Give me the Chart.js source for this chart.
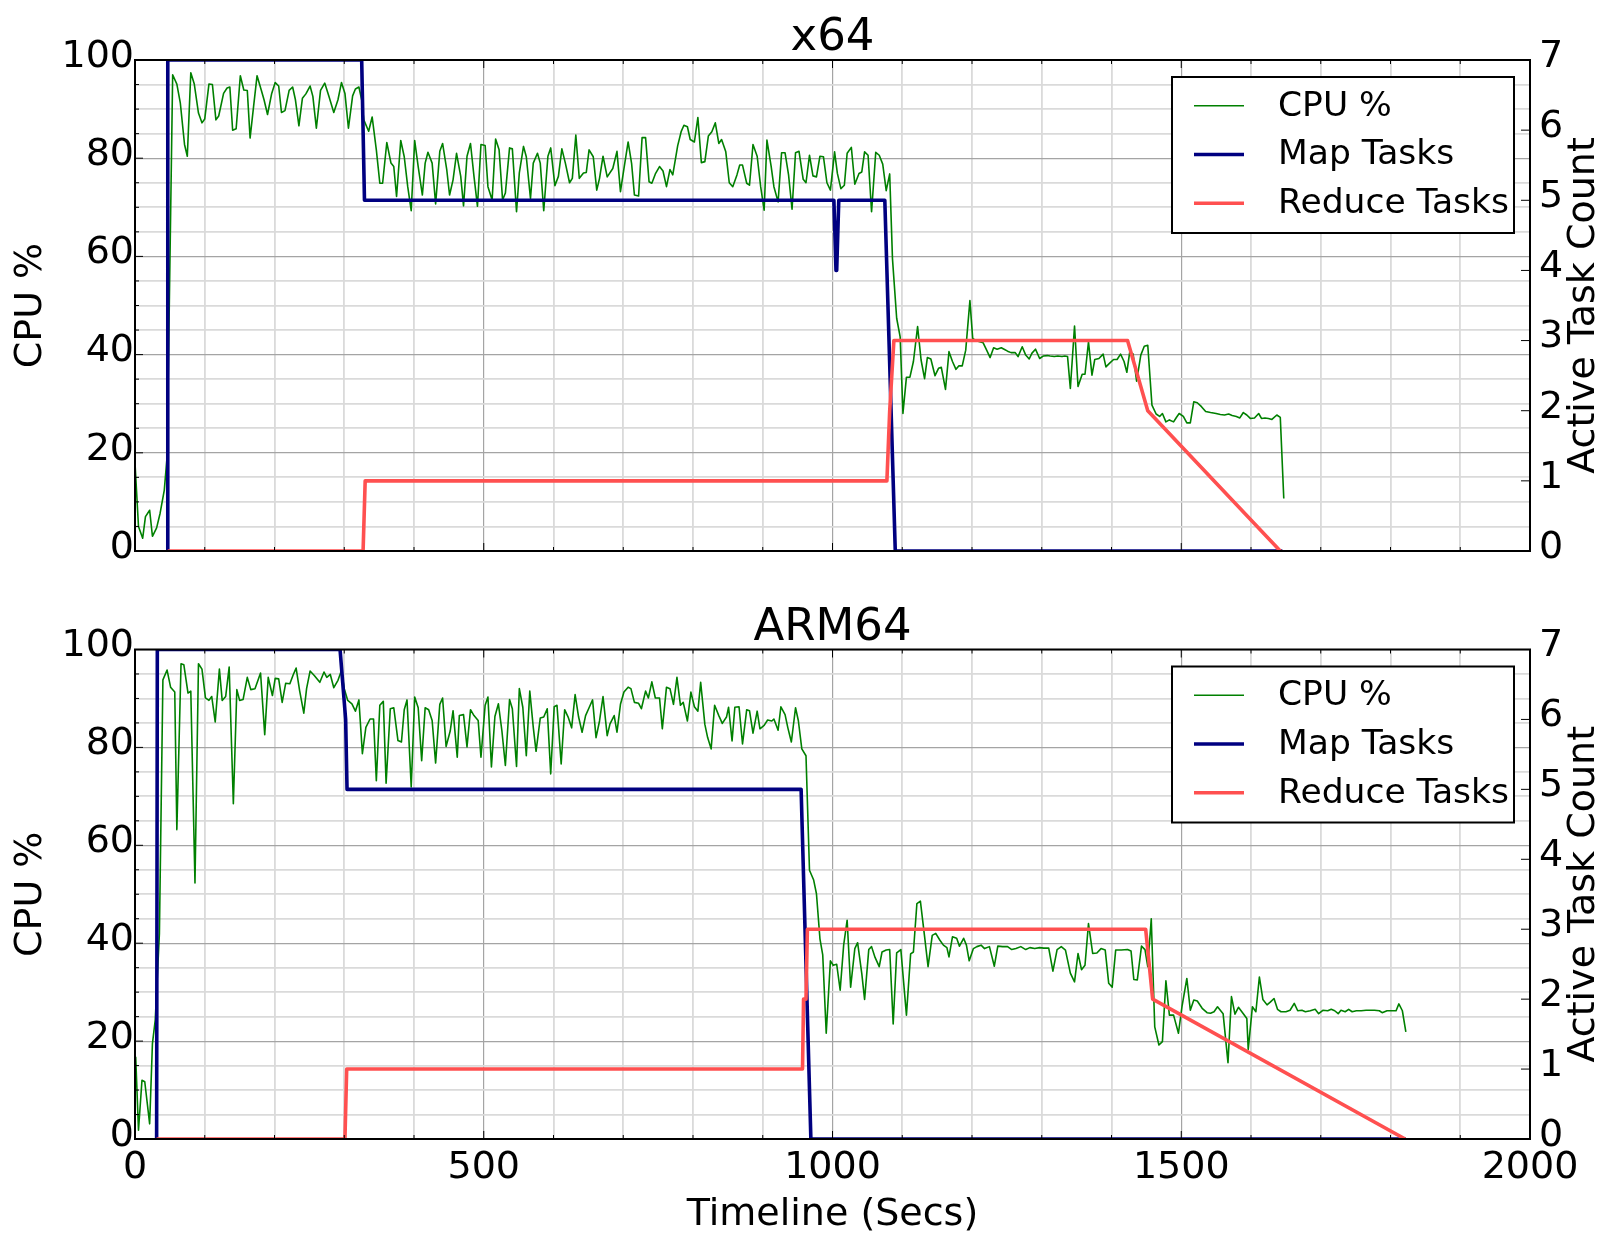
<!DOCTYPE html>
<html><head><meta charset="utf-8">
<script src="https://cdn.jsdelivr.net/npm/chart.js@4/dist/chart.umd.min.js"></script>
<style>
html,body{margin:0;padding:0;background:#fff;}
#wrap{position:relative;width:1620px;height:1247px;overflow:hidden;}
canvas{position:absolute;left:0;}
</style></head><body>
<div id="wrap">
<canvas id="c1" width="1620" height="600" style="top:0px"></canvas>
<canvas id="c2" width="1620" height="647" style="top:600px"></canvas>
</div>
<script>
// ---------- DATA ----------
const SERIES_LABELS = ['CPU %', 'Map Tasks', 'Reduce Tasks'];
const CHART_TITLES = ['x64', 'ARM64'];
const X_TICK_LABELS = [0, 500, 1000, 1500, 2000];
const CPU_TICK_LABELS = [0, 20, 40, 60, 80, 100];
const TASK_TICK_LABELS = [0, 1, 2, 3, 4, 5, 6, 7];

// [time (s), CPU %]
const x64Cpu = [[0,17.9],[5,5],[11,2.6],[15,7],[21,8.3],[25,3],[31,4.7],[36,7.7],[42,12.4],[46,19.2],[54,97],[60,95.1],[65,91.2],[71,82.8],[75,80.4],[80,97.4],[85,95.1],[91,89.2],[96,87.2],[100,88],[106,95.1],[111,95],[116,87.8],[120,88.6],[127,93.2],[132,94.3],[136,94.5],[140,85.7],[145,86],[151,96.8],[156,93.9],[161,93.8],[165,84.1],[170,90.5],[175,96.8],[181,93.9],[185,91.9],[190,88.9],[196,93.2],[201,95.4],[206,94.7],[210,89.3],[215,89.7],[221,93.8],[226,94.5],[230,91.9],[235,86.6],[240,92.2],[245,93.1],[251,94.7],[255,92.6],[260,86.1],[266,93.8],[272,95.3],[278,92.6],[285,89.3],[291,91.9],[296,95.4],[301,93.2],[306,86.1],[312,92.7],[316,94.1],[321,94.5],[325,91.9],[328,87.8],[335,85.5],[340,88.4],[346,81.7],[351,74.9],[355,74.9],[361,83.2],[367,79],[371,78.3],[375,72.2],[381,83.6],[386,80.3],[391,74.2],[396,69.3],[401,83.6],[406,78.3],[412,72.5],[416,79],[420,81.2],[426,79],[431,70.7],[437,81.4],[441,83],[447,77.6],[451,72.5],[456,75.6],[461,81],[467,76.3],[471,70.3],[476,80.4],[481,83],[486,76.3],[491,70.2],[496,82.8],[502,82.6],[506,74.2],[512,71.5],[517,83.9],[522,81.7],[527,71.5],[531,72.9],[537,82.1],[541,81.9],[547,69.1],[551,77],[557,82.4],[561,80.3],[567,71.8],[571,79],[577,81],[581,79],[586,69.3],[592,80.4],[596,82.1],[602,74.4],[607,76.3],[612,81.9],[617,79],[623,75],[627,75.9],[632,84.7],[637,75.9],[643,77],[647,77.1],[651,81.7],[657,80.3],[662,73.5],[666,75.9],[671,80.4],[677,76.2],[685,77.9],[691,81.4],[696,73.2],[701,77.9],[707,83.3],[712,78.9],[716,72.5],[722,72.3],[727,84.2],[732,84.2],[737,75.2],[741,74.9],[746,76.8],[752,78.3],[757,77.4],[762,74.2],[767,77.7],[771,76.6],[778,82.5],[783,85.4],[787,86.7],[792,86.4],[796,83.8],[802,83.3],[807,88.3],[812,79.1],[817,79.3],[822,84.5],[827,85.4],[832,87.2],[837,83],[841,83.8],[847,81.3],[852,75],[857,74.2],[863,76.6],[867,78.6],[871,78.6],[877,74.9],[881,74.5],[886,82.8],[892,80.4],[897,74.2],[902,69.4],[906,83.7],[912,78.4],[916,74.2],[922,71.1],[927,81.1],[932,81.1],[937,76.6],[942,69.6],[947,81.1],[952,81.4],[958,75.7],[962,75],[967,80.6],[972,76.4],[977,76.2],[982,80.4],[987,80.3],[992,75],[997,73.5],[1003,81.3],[1007,76.9],[1012,73.8],[1017,74.5],[1021,81],[1027,82.2],[1032,74.7],[1038,76.9],[1042,77.2],[1046,81.3],[1051,80.6],[1056,69.1],[1062,81.2],[1067,80.6],[1072,78.8],[1077,73.4],[1082,76.8],[1086,59.5],[1092,47.4],[1097,43.6],[1101,28],[1106,35.4],[1111,35.4],[1116,38.6],[1122,45.7],[1127,38.9],[1132,35.1],[1136,39.4],[1141,39.1],[1147,35.7],[1152,37.2],[1156,37.4],[1162,32.9],[1167,40.6],[1172,38.6],[1177,37],[1181,37.7],[1186,37.7],[1191,40.9],[1197,51],[1201,43.3],[1206,42.8],[1211,42.6],[1216,42.4],[1221,40.9],[1226,39.4],[1231,41.4],[1236,41.1],[1242,41.4],[1246,41.1],[1251,40.7],[1256,40.4],[1262,40.4],[1266,39.6],[1272,41.6],[1277,39.9],[1282,39.1],[1286,40.3],[1291,41.1],[1297,39.2],[1302,39.7],[1308,39.8],[1312,39.7],[1318,39.6],[1323,39.7],[1329,39.6],[1333,39.7],[1337,39.6],[1341,33.1],[1347,45.8],[1352,33.5],[1358,36],[1362,36],[1367,42.6],[1372,35.8],[1376,39],[1382,39.2],[1388,40.1],[1392,37.5],[1397,38.2],[1403,39],[1408,39],[1413,40.1],[1418,38.6],[1422,36.4],[1426,40.4],[1431,40.1],[1436,34.6],[1442,39.9],[1447,41.7],[1452,41.9],[1458,29.7],[1464,27.9],[1469,27.4],[1473,28],[1478,26.3],[1483,26.7],[1489,26.3],[1493,27.2],[1497,28],[1503,27.4],[1508,26.1],[1513,26.1],[1518,30.4],[1523,30.2],[1529,29.4],[1535,28.4],[1542,28.2],[1550,28],[1556,27.8],[1562,27.7],[1568,27.9],[1573,27.6],[1579,27.4],[1584,27.1],[1589,28.2],[1594,27.7],[1599,27],[1605,27.1],[1611,28],[1615,27],[1620,27.1],[1625,27],[1630,26.8],[1637,27.7],[1642,27.2],[1647,10.7]];

// [time (s), active map tasks]
const x64Map = [[46,0],[47,7],[325,7],[329,5],[1002,5],[1005,4],[1006,4],[1009,5],[1075,5],[1090,0],[1645,0]];
// [time (s), active reduce tasks]
const x64Reduce = [[47,0],[327,0],[330,1],[1078,1],[1082,2],[1088,3],[1423,3],[1452,2],[1642,0]];

const armCpu = [[1,16.8],[5,1.8],[10,12],[14,11.7],[21,3.1],[25,19.5],[29,24.3],[35,42],[40,93.8],[46,95.8],[51,92.3],[57,91.3],[60,63.2],[66,97.1],[70,96.9],[76,91.1],[80,91.5],[86,52.3],[91,97.1],[96,96],[101,90.1],[106,89.6],[110,90.4],[115,85.2],[121,96],[125,89.6],[130,90.4],[135,96.4],[141,68.5],[146,91.8],[150,89.6],[155,89.8],[161,94.3],[166,91.8],[172,92],[180,95.2],[186,82.6],[191,94.3],[197,90.6],[201,94.1],[206,94],[211,89.2],[216,93.1],[222,93],[227,94.9],[231,96.2],[236,91.6],[242,87],[246,92],[251,95.6],[257,94.7],[265,93.3],[271,95.4],[275,94.3],[280,94.9],[285,92.2],[291,93.7],[296,95.7],[300,92],[305,89.6],[311,88.9],[316,87.4],[321,89.7],[326,78.7],[331,84.1],[337,85.8],[342,85.8],[346,73.2],[351,88.6],[356,89.4],[360,72.7],[366,87.9],[371,88.1],[377,81.4],[382,81.1],[386,87.7],[390,89.7],[396,71.9],[401,90.3],[406,88.1],[411,77.3],[416,88.1],[421,87.7],[426,85.5],[431,76.8],[437,88.8],[441,90.1],[446,80.2],[452,83.4],[456,87.5],[462,78],[465,86.5],[471,86.7],[476,80.1],[481,87.7],[486,86.5],[492,85.5],[496,78],[502,88.6],[506,90.3],[511,76],[516,86.3],[521,88.9],[526,83.4],[531,76.3],[537,89.8],[541,87.9],[547,76.1],[551,92],[556,88.2],[561,78.3],[566,91.5],[571,84.1],[575,79.2],[581,86],[586,86.2],[591,87.9],[596,74.6],[601,88.3],[605,88.6],[611,76.6],[616,87.7],[621,86.2],[626,84],[631,90.8],[636,86.2],[641,83.1],[646,86.5],[651,88.1],[656,89.7],[661,82],[666,85.4],[671,90.4],[677,82.4],[681,84.8],[687,86.5],[691,83.1],[696,88.8],[701,91.3],[707,92.3],[711,92],[716,89.2],[722,89],[726,87.9],[732,91.5],[736,90.1],[741,93.4],[746,90.1],[752,90.1],[756,83.8],[762,92.3],[767,92],[772,88.8],[777,94.3],[782,88.6],[786,89.2],[792,85.4],[797,91.3],[802,88.3],[807,87.4],[811,93.3],[817,84.7],[821,82],[826,79.7],[831,88.6],[837,86.5],[842,84.9],[848,86.2],[851,88.2],[856,81.3],[860,88.2],[866,88.3],[871,80.7],[877,87.7],[881,87.5],[886,82.9],[892,87.4],[896,83.8],[902,84.5],[907,85.6],[913,85.4],[916,85.8],[922,83.5],[926,88.3],[932,86.7],[936,84],[941,81.1],[947,88.1],[951,85.5],[956,79.7],[962,78.3],[967,54.9],[973,52.9],[977,50.1],[982,40.9],[986,37.6],[991,21.6],[997,36.4],[1001,35.5],[1006,35.7],[1011,30.4],[1016,39.6],[1021,44.7],[1026,31],[1032,38.9],[1036,40.1],[1042,33.8],[1046,28.5],[1052,38.7],[1056,39.3],[1061,37.1],[1067,35.2],[1071,38.2],[1077,38.6],[1082,38.7],[1087,23.5],[1092,38],[1098,38.7],[1102,32],[1106,25.3],[1112,37.8],[1116,38.2],[1121,48.1],[1126,48.6],[1132,41.4],[1137,35.2],[1143,41.6],[1148,42],[1154,40.6],[1159,39.6],[1164,39.1],[1167,37.2],[1172,41.3],[1178,41],[1182,39.4],[1188,41],[1192,39.6],[1196,36.4],[1202,38.9],[1207,39.3],[1213,39.6],[1218,38.9],[1225,39.3],[1232,35.3],[1237,39.4],[1244,39.3],[1251,39.3],[1257,38.7],[1263,38.9],[1270,39.3],[1277,38.7],[1283,39.1],[1290,38.9],[1297,39.1],[1303,39],[1310,39],[1316,34.3],[1322,38.7],[1328,39.3],[1334,38.6],[1341,33.9],[1347,32.1],[1352,37.9],[1357,34.6],[1362,35.5],[1367,44],[1373,37.9],[1379,38],[1385,38.9],[1391,38.6],[1396,31.8],[1401,31],[1406,38.6],[1414,38.6],[1423,38.7],[1428,38.4],[1432,32.6],[1437,32.5],[1443,39.4],[1448,38.7],[1452,35.2],[1457,45],[1462,22.9],[1468,19.2],[1473,19.9],[1478,32.3],[1483,25.3],[1489,25.3],[1496,21.6],[1501,27],[1508,32.8],[1513,26.3],[1518,28.4],[1523,28.2],[1530,26.7],[1537,25.8],[1542,25.7],[1547,26],[1552,27],[1560,25.6],[1567,15.6],[1572,29.1],[1577,25.5],[1582,26.9],[1589,25.6],[1594,24.6],[1596,18.3],[1602,27],[1607,26],[1612,33.1],[1617,28.5],[1623,27.4],[1628,28],[1633,28.7],[1638,26.5],[1643,26],[1650,26],[1656,26.3],[1662,27.7],[1667,26.2],[1673,26.3],[1678,26],[1685,26.2],[1692,26.5],[1697,25.6],[1703,26.3],[1710,26.2],[1715,26.5],[1720,26.2],[1725,25.6],[1729,26.3],[1735,26],[1740,26.5],[1745,26],[1751,26.2],[1758,26.2],[1765,26.3],[1771,26.3],[1777,26.3],[1784,26.2],[1788,25.8],[1795,26.2],[1802,26.2],[1808,26.2],[1812,27.6],[1817,26.2],[1822,21.9]];
const armMap = [[31,0],[32,7],[294,7],[302,6],[304,5],[955,5],[969,0],[1822,0]];
const armReduce = [[31,0],[301,0],[303.5,1],[957,1],[958.5,2],[962,2],[964,3],[1449,3],[1459,2],[1821,0]];

// ---------- STYLE ----------
const FONT = '"DejaVu Sans", sans-serif';
const COLORS = ['#008000', '#000080', '#ff5050'];
const WIDTHS = [1.6, 3.6, 3.6];
const GRID_MAJOR = '#a4a4a4', GRID_MINOR = '#dadada';

function pts(arr) { return arr.map(p => ({x: p[0], y: p[1]})); }

const decor = {
  id: 'decor',
  afterDatasetsDraw(chart) {
    const ctx = chart.ctx, ca = chart.chartArea;
    const xs = chart.scales.x, ys = chart.scales.y, y1 = chart.scales.y1;
    ctx.save();
    ctx.strokeStyle = '#000'; ctx.lineWidth = 1;
    const seg = (a, b, c, d) => { ctx.beginPath(); ctx.moveTo(a, b); ctx.lineTo(c, d); ctx.stroke(); };
    xs.ticks.forEach(t => {
      const px = xs.getPixelForValue(t.value);
      const len = X_TICK_LABELS.includes(t.value) ? 8 : 4;
      seg(px, ca.bottom, px, ca.bottom - len);
      seg(px, ca.top, px, ca.top + len);
    });
    ys.ticks.forEach(t => {
      const py = ys.getPixelForValue(t.value);
      const len = CPU_TICK_LABELS.includes(t.value) ? 8 : 4;
      seg(ca.left, py, ca.left + len, py);
    });
    y1.ticks.forEach(t => {
      const py = y1.getPixelForValue(t.value);
      seg(ca.right - 9, py, ca.right, py);
    });
    // frame
    ctx.lineWidth = 2;
    ctx.strokeRect(ca.left, ca.top, ca.right - ca.left, ca.bottom - ca.top);
    // legend
    const lx = 1172, ly = ca.top + 17, lw = 342, lh = 156;
    ctx.fillStyle = '#fff';
    ctx.fillRect(lx, ly, lw, lh);
    ctx.strokeStyle = '#000'; ctx.lineWidth = 2;
    ctx.strokeRect(lx, ly, lw, lh);
    ctx.font = '34.5px ' + FONT;
    ctx.textBaseline = 'middle'; ctx.textAlign = 'left';
    chart.data.datasets.forEach((ds, i) => {
      const yy = ly + 28.8 + i * 48.7;
      ctx.strokeStyle = ds.borderColor; ctx.lineWidth = ds.borderWidth;
      seg(1194, yy, 1244, yy);
      ctx.fillStyle = '#000';
      ctx.fillText(ds.label, 1278, yy + 1);
    });
    // right axis title
    ctx.save();
    ctx.translate(1584, (ca.top + ca.bottom) / 2);
    ctx.rotate(-Math.PI / 2);
    ctx.font = '38px ' + FONT;
    ctx.textAlign = 'center'; ctx.textBaseline = 'middle';
    ctx.fillStyle = '#000';
    ctx.fillText('Active Task Count', 0, 0);
    ctx.restore();
    ctx.restore();
  }
};

function makeChart(id, title, cpu, map, red, showX, titlePad, xHeight) {
  const tickFont = {family: FONT, size: 38};
  return new Chart(document.getElementById(id), {
    type: 'line',
    data: {
      datasets: [
        {label: SERIES_LABELS[0], data: pts(cpu), yAxisID: 'y', borderColor: COLORS[0], borderWidth: WIDTHS[0], order: 3},
        {label: SERIES_LABELS[1], data: pts(map), yAxisID: 'y1', borderColor: COLORS[1], borderWidth: WIDTHS[1], order: 2},
        {label: SERIES_LABELS[2], data: pts(red), yAxisID: 'y1', borderColor: COLORS[2], borderWidth: WIDTHS[2], order: 1}
      ]
    },
    options: {
      responsive: false, animation: false, devicePixelRatio: 1,
      layout: {padding: 0},
      elements: {point: {radius: 0}, line: {tension: 0, borderJoinStyle: 'round', fill: false}},
      plugins: {
        legend: {display: false}, tooltip: {enabled: false},
        title: {display: true, fullSize: false, text: title, color: '#000',
          font: {family: FONT, size: 45, weight: 'normal', lineHeight: 0.9}, padding: titlePad}
      },
      scales: {
        x: {
          type: 'linear', position: 'bottom', min: 0, max: 2000,
          border: {display: false},
          grid: {drawTicks: false,
            color: c => X_TICK_LABELS.includes(c.tick.value) ? GRID_MAJOR : GRID_MINOR,
            lineWidth: c => X_TICK_LABELS.includes(c.tick.value) ? 1.2 : 1.8},
          ticks: {display: showX, stepSize: 100, autoSkip: false, maxRotation: 0, minRotation: 0, maxTicksLimit: 1000,
            padding: 6, color: '#000', font: tickFont,
            callback: v => X_TICK_LABELS.includes(v) ? String(v) : ''},
          title: {display: showX, text: 'Timeline (Secs)', color: '#000', font: tickFont, padding: {top: 0, bottom: 9.5}},
          afterFit: s => { s.height = xHeight; }
        },
        y: {
          position: 'left', min: 0, max: 100,
          border: {display: false},
          grid: {drawTicks: false,
            color: c => CPU_TICK_LABELS.includes(c.tick.value) ? GRID_MAJOR : GRID_MINOR,
            lineWidth: c => CPU_TICK_LABELS.includes(c.tick.value) ? 1.2 : 1.8},
          ticks: {stepSize: 5, autoSkip: false, maxTicksLimit: 1000, padding: 1, labelOffset: -3, color: '#000', font: tickFont,
            callback: v => CPU_TICK_LABELS.includes(v) ? String(v) : ''},
          title: {display: true, text: 'CPU %', color: '#000', font: tickFont, padding: {top: 8.1, bottom: 0}},
          afterFit: s => { s.width = 135; }
        },
        y1: {
          position: 'right', min: 0, max: 7,
          border: {display: false},
          grid: {display: false, drawOnChartArea: false, drawTicks: false},
          ticks: {stepSize: 1, autoSkip: false, maxTicksLimit: 1000, padding: 9, labelOffset: -3, color: '#000', font: tickFont,
            callback: v => TASK_TICK_LABELS.includes(v) ? String(v) : ''},
          afterFit: s => { s.width = 90; }
        }
      }
    },
    plugins: [decor]
  });
}

makeChart('c1', CHART_TITLES[0], x64Cpu, x64Map, x64Reduce, false, {top: 18, bottom: 1.5}, 49);
makeChart('c2', CHART_TITLES[1], armCpu, armMap, armReduce, true, {top: 8.5, bottom: 0.5}, 108);
</script>
</body></html>
